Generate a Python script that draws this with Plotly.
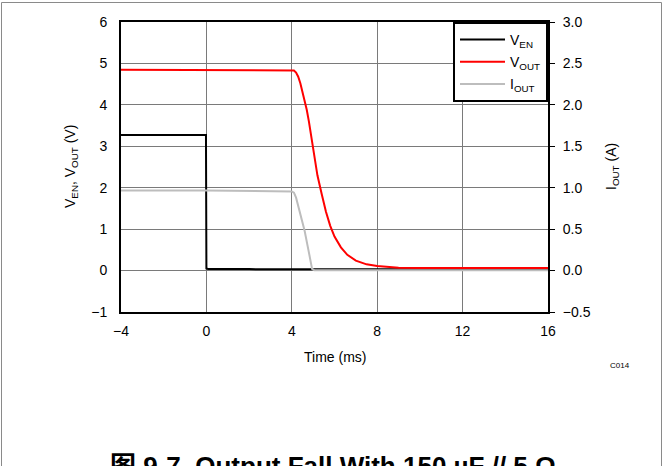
import plotly.graph_objects as go

# ---- data ----
t_ven = [-4, -0.02, 0.0, 0.08, 2.0, 4.0, 8.0, 12.0, 16.0]
v_en = [3.27, 3.27, 0.05, 0.04, 0.035, 0.03, 0.03, 0.03, 0.03]

t_vout = [-4, 0, 4.05, 4.1, 4.2, 4.3, 4.4, 4.5, 4.6, 4.7, 4.8, 4.9, 5.0, 5.2, 5.4,
          5.6, 5.8, 6.0, 6.3, 6.6, 7.0, 7.5, 8.0, 8.5, 9.0, 10.0, 12.0, 16.0]
v_out = [4.85, 4.84, 4.84, 4.83, 4.78, 4.68, 4.52, 4.32, 4.1, 3.88, 3.6, 3.25, 2.9,
         2.3, 1.85, 1.42, 1.08, 0.82, 0.56, 0.38, 0.24, 0.15, 0.11, 0.085, 0.07,
         0.06, 0.06, 0.06]

t_iout = [-4, 0, 4.0, 4.1, 4.2, 4.4, 4.6, 4.8, 4.95, 5.05, 8.0, 16.0]
i_out = [0.965, 0.965, 0.955, 0.94, 0.88, 0.69, 0.48, 0.22, 0.02, 0.005, 0.005, 0.005]

x_ticks = [-4, 0, 4, 8, 12, 16]
y1_ticks = [-1, 0, 1, 2, 3, 4, 5, 6]
y2_ticks = [-0.5, 0.0, 0.5, 1.0, 1.5, 2.0, 2.5, 3.0]
y2_labels = ["\u22120.5", "0.0", "0.5", "1.0", "1.5", "2.0", "2.5", "3.0"]

FONT = "Liberation Sans, Arial, Noto Sans CJK SC, sans-serif"

fig = go.Figure()
fig.add_trace(go.Scatter(x=t_iout, y=i_out, mode="lines", yaxis="y2",
                         name="I<sub>OUT</sub>", legendrank=3, legendgroup="c",
                         line=dict(color="#bdbdbd", width=2)))
fig.add_trace(go.Scatter(x=t_ven, y=v_en, mode="lines",
                         name="V<sub>EN</sub>", legendrank=1, legendgroup="a",
                         line=dict(color="black", width=2)))
fig.add_trace(go.Scatter(x=t_vout, y=v_out, mode="lines",
                         name="V<sub>OUT</sub>", legendrank=2, legendgroup="b",
                         line=dict(color="#ff0000", width=2)))

L, R, T, B = 121, 115, 22, 154
W, H = 663, 466
pw, ph = W - L - R, H - T - B


def px(xp):
    return (xp - L) / pw


def py(yp):
    return (H - B - yp) / ph


fig.update_layout(
    width=W, height=H,
    margin=dict(l=L, r=R, t=T, b=B),
    paper_bgcolor="white", plot_bgcolor="white",
    font=dict(family=FONT, size=14, color="black"),
    showlegend=True,
    legend=dict(x=1, xanchor="right", y=1, yanchor="top",
                bordercolor="black", borderwidth=2, bgcolor="white",
                font=dict(size=14), tracegroupgap=1, itemwidth=45),
    xaxis=dict(range=[-4, 16], tickvals=x_ticks, showgrid=True,
               gridcolor="#7a7a7a", gridwidth=1, zeroline=False,
               showline=True, linecolor="black", linewidth=2, mirror=True,
               ticks="", tickfont=dict(size=14), ticklabelstandoff=5),
    yaxis=dict(range=[-1, 6], tickvals=y1_ticks, showgrid=True,
               gridcolor="#7a7a7a", gridwidth=1, zeroline=False,
               showline=True, linecolor="black", linewidth=2, mirror=True,
               ticks="", tickfont=dict(size=14), ticklabelstandoff=9),
    yaxis2=dict(range=[-0.5, 3.0], tickvals=y2_ticks, ticktext=y2_labels,
                overlaying="y", side="right", showgrid=False, zeroline=False,
                showline=True, linecolor="black", linewidth=2,
                ticks="outside", ticklen=5, tickcolor="black",
                tickfont=dict(size=14), ticklabelstandoff=5),
)

ann = [
    dict(text="V<sub>EN</sub>, V<sub>OUT</sub> (V)", x=px(71), y=py(167),
         textangle=-90, font=dict(size=14)),
    dict(text="I<sub>OUT</sub> (A)", x=px(612), y=py(167),
         textangle=-90, font=dict(size=14)),
    dict(text="Time (ms)", x=px(335), y=py(357), font=dict(size=14)),
    dict(text="C014", x=px(620), y=py(365), font=dict(size=8)),
    dict(text="<b>\u56fe 9-7. Output Fall With 150 \u00b5F // 5 \u03a9</b>",
         x=px(333), y=py(466), font=dict(size=26)),
]
for a in ann:
    a.update(xref="paper", yref="paper", showarrow=False,
             xanchor="center", yanchor="middle")
    fig.add_annotation(**a)

fig.add_shape(type="rect", xref="paper", yref="paper",
              x0=px(1.5), x1=px(661.5), y0=py(2.5), y1=py(480),
              line=dict(color="#8a8a8a", width=1), layer="below")

fig.write_html("out.html",
               config={"displayModeBar": False},
               post_script="document.body.style.margin='0px';"
                           "document.body.style.overflow='hidden';")
